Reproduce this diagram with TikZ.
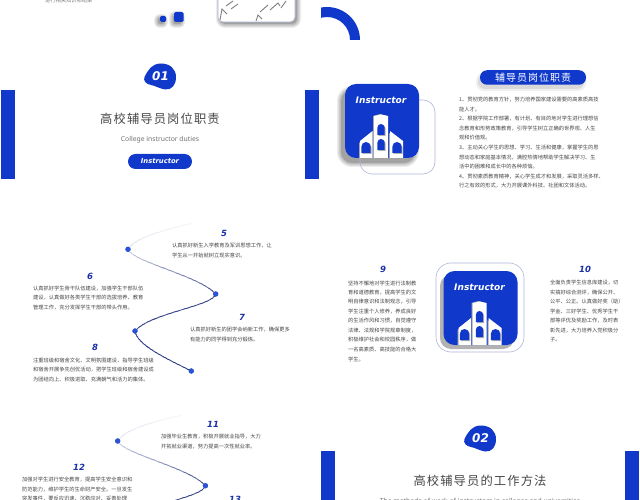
\documentclass[tikz,border=0pt]{standalone}
\usepackage{fontspec}
\setmainfont{Noto Sans CJK SC}
\newfontfamily\latinf{Noto Sans}
\newfontfamily\techf{DejaVu Sans}
\newcommand{\dou}{\char"FF0C\relax}
\definecolor{brandblue}{HTML}{1039CB}
\definecolor{navyline}{HTML}{2A3A84}
\definecolor{numblue}{HTML}{1A2FA8}
\definecolor{outlineblue}{HTML}{AEB7DA}
\definecolor{dotblue}{HTML}{2C52D6}
\tikzset{
 tx/.style={anchor=west,inner sep=0pt,text=black!72,font=\fontsize{5.25}{6}\selectfont},
 num/.style={inner sep=0pt,text=numblue,font=\techf\bfseries\itshape\fontsize{8.5}{9}\selectfont},
 bar/.style={fill=brandblue,draw=none},
 titletx/.style={inner sep=0pt,text=black!72,font=\fontsize{12.3}{14}\selectfont},
 dotn/.style={circle,fill=dotblue,draw=none,minimum size=5.2pt,inner sep=0pt},
 pilltx/.style={inner sep=0pt,text=white,font=\techf\bfseries\itshape\fontsize{6.8}{7}\selectfont},
 sublatin/.style={inner sep=0pt,text=black!55,font=\latinf\fontsize{6.8}{9}\selectfont},
 icontx/.style={inner sep=0pt,text=white,font=\techf\bfseries\itshape\fontsize{9}{10}\selectfont},
}
\newcommand{\softshadow}[5]{%
 \foreach \d in {0,1,2,3,4}{%
  \fill[black,opacity=.07,rounded corners=#5+\d*1pt] (#1-\d,#2-\d) rectangle (#3+\d,#4+\d);}%
 \fill[black!45,opacity=.35,rounded corners=#5] (#1,#2) rectangle (#3,#4);}
\newcommand{\blob}[4]{%
 \begin{scope}[shift={(#2,#3)}]
 \fill[brandblue] (-15.5,1) .. controls (-12,-6) and (-8,-12.5) .. (1,-12.5)
   .. controls (10,-12.5) and (16,-7) .. (16,1)
   .. controls (16,9) and (12,14) .. (5,13.5)
   .. controls (-1,12.5) and (-5,9.5) .. (-9,9)
   .. controls (-14,8) and (-17,5) .. cycle;
 \node[inner sep=0pt,text=white,font=\techf\bfseries\itshape\fontsize{12}{13}\selectfont] (#1) at (0.5,0) {#4};
 \end{scope}}
\newcommand{\iconart}[3]{%
 \begin{scope}[shift={(#2,#3)}]
 \fill[brandblue,rounded corners=11pt] (345,84) rectangle (419,158);
 \begin{scope}
 \clip (345,84) rectangle (419,158);
 \fill[black!35] (359,143) -- (371,133) -- (371,158) -- (359,158) -- cycle;
 \fill[black!35] (373,116) -- (380,114) -- (387,116) -- (387,158) -- (373,158) -- cycle;
 \fill[black!35] (389,133) -- (402,143) -- (402,158) -- (389,158) -- cycle;
 \fill[white] (360,141) -- (372.5,131) -- (372.5,158) -- (360,158) -- cycle;
 \fill[white] (374,116) -- (381,114.5) -- (388,116) -- (388,158) -- (374,158) -- cycle;
 \fill[white] (390,131) -- (403,141) -- (403,158) -- (390,158) -- cycle;
 \foreach \wx/\wy/\ww/\wh in {381/124/3.6/11,381/139/3.6/11,366/142/4.6/11,397/142/4.6/11}{
  \fill[black!30] (\wx+1-\ww,\wy+\wh+1) -- (\wx+1-\ww,\wy+\ww+1) arc[start angle=180,end angle=360,radius=\ww] -- (\wx+1+\ww,\wy+\wh+1) -- cycle;
  \fill[brandblue] (\wx-\ww,\wy+\wh) -- (\wx-\ww,\wy+\ww) arc[start angle=180,end angle=360,radius=\ww] -- (\wx+\ww,\wy+\wh) -- cycle;
 }
 \end{scope}
 \node[icontx] (#1) at (381,100) {Instructor};
 \end{scope}}
\newcommand{\swirl}[3]{%
 \begin{scope}[shift={(#2,#3)}]
 \coordinate (#1s) at (193,223);
 \node[dotn] (#1a) at (128,249.3) {};
 \node[dotn] (#1b) at (215.7,294) {};
 \node[dotn] (#1c) at (135,331) {};
 \node[dotn] (#1d) at (191.3,371) {};
 \foreach \i in {0,...,59}{%
  \pgfmathsetmacro\ya{222+\i*2.55}
  \pgfmathsetmacro\mx{\ya<249?(4+(\ya-222)*.45):(\ya<294?(20+(\ya-249)*1.6):(92+(\ya-294)*.1))}
  \colorlet{bandc}{navyline!\mx!white}
  \begin{scope}
   \clip (90,\ya) rectangle (250,\ya+2.65);
   \draw[bandc,line width=.8pt] (#1s) .. controls +(-33,8) and +(7,-11.3) .. (#1a.center)
     .. controls +(5,12.7) and +(-15.7,-18) .. (#1b.center)
     .. controls +(-2,12) and +(15,-18) .. (#1c.center)
     .. controls +(2,14) and +(-26,-13) .. (#1d.center);
  \end{scope}}
 \foreach \n in {a,b,c,d}{\node[dotn] at (#1\n) {};}
 \end{scope}}
\begin{document}
\begin{tikzpicture}[x=1pt,y=-1pt]
\useasboundingbox (0,0) rectangle (640,500);
\fill[white] (0,0) rectangle (640,500);
\clip (0,0) rectangle (640,500);
% top slide remnants
\node[tx,text=black!50] (toptext) at (45,1) {进行相关知识和结果};
\softshadow{158}{18}{164}{24}{1.5pt}
\fill[brandblue,rounded corners=1.5pt] (160,16) rectangle (166,22);
\softshadow{173}{15}{181}{24}{1.5pt}
\fill[brandblue,rounded corners=1.5pt] (174,12) rectangle (183.5,22);
\softshadow{220}{-10}{297}{24}{5pt}
\fill[white,draw=outlineblue,line width=.6pt,rounded corners=5pt] (218,-10) rectangle (295,22);
\draw[black!50,line width=.9pt] (220,20) -- (222,9) -- (227,14) (226,6) -- (233,1) (231,9) -- (238,4) (256,21) -- (258,15) -- (262,19) (260,12) -- (268,5) (270,10) -- (278,3) -- (280,6) (281,8) -- (286,1);
% arc
\begin{scope}
 \clip (321,0) rectangle (370,45);
 \fill[brandblue] (360,40) arc[start angle=360,end angle=180,radius=33] -- (304,40) arc[start angle=180,end angle=360,radius=23] -- cycle;
\end{scope}
% slide 01
\blob{n01}{160}{76}{01}
\fill[bar] (1,90) rectangle (15,179);
\fill[bar] (305,90) rectangle (319,179);
\node[titletx] (t1) at (160,119) {\addfontfeature{LetterSpace=9}高校辅导员岗位职责};
\node[sublatin] (t1s) at (160,140) {College instructor duties};
\node[fill=brandblue,rounded corners=7.5pt,minimum width=64pt,minimum height=15pt,inner sep=0pt] (p1) at (160,161.5) {};
\node[pilltx] at (p1) {Instructor};
% slide duties
\fill[black!30,opacity=.4,rounded corners=7pt] (478,74) rectangle (584,89);
\fill[black!20,opacity=.3,rounded corners=8pt] (476,73) rectangle (586,91);
\node[fill=brandblue,rounded corners=7pt,minimum width=106pt,minimum height=14.5pt,inner sep=0pt] (p2) at (533,77.5) {};
\node[inner sep=0pt,text=white,font=\fontsize{10}{11}\selectfont] at (p2) {\addfontfeature{LetterSpace=10}辅导员岗位职责};
\softshadow{341}{90}{415}{163}{11pt}
\draw[outlineblue,line width=.6pt,rounded corners=12pt] (360,100) rectangle (435,174);
\iconart{ic1}{0}{0}
\foreach \ty/\tt in {
 100/{1、贯彻党的教育方针\dou 努力培养国家建设需要的高素质高技},
 109.5/{能人才。},
 119/{2、根据学院工作部署\dou 有计划、有目的地对学生进行理想信},
 128.5/{念教育和形势政策教育\dou 引导学生树立正确的世界观、人生},
 138/{观和价值观。},
 148/{3、主动关心学生的思想、学习、生活和健康\dou 掌握学生的思},
 157.5/{想动态和家庭基本情况\dou 满腔热情地帮助学生解决学习、生},
 167/{活中的困难和成长中的各种烦恼。},
 176.5/{4、贯彻素质教育精神\dou 关心学生成才和发展\dou 采取灵活多样、},
 186/{行之有效的形式\dou 大力开展课外科技、社团和文体活动。}}{
 \node[tx] at (459,\ty) {\tt};}
% swirl 1
\swirl{sa}{0}{0}
\node[num] (n5) at (224,233) {5};
\node[tx] at (172,246) {认真抓好新生入学教育及军训思想工作\dou 让};
\node[tx] at (172,255.5) {学生从一开始就树立现实意识。};
\node[num] (n6) at (90,276) {6};
\node[tx] at (33,288.5) {认真抓好学生骨干队伍建设\dou 加强学生干部队伍};
\node[tx] at (33,298) {建设\dou 认真做好各类学生干部的选拔培养、教育};
\node[tx] at (33,307.5) {管理工作\dou 充分发挥学生干部的带头作用。};
\node[num] (n7) at (242,317) {7};
\node[tx] at (190,330) {认真抓好新生的团学会纳新工作\dou 确保更多};
\node[tx] at (190,339.5) {有能力的同学得到充分锻炼。};
\node[num] (n8) at (95,347) {8};
\node[tx] at (33,360.5) {注重班级和宿舍文化、文明氛围建设\dou 指导学生班级};
\node[tx] at (33,370) {和宿舍开展争先创优活动\dou 把学生班级和宿舍建设成};
\node[tx] at (33,379.5) {为团结向上、积极进取、充满朝气和活力的集体。};
% icon slide
\fill[white,draw=outlineblue,line width=.6pt,rounded corners=15pt] (436,263) rectangle (524,352);
\fill[black!30,rounded corners=11pt] (440,275) rectangle (514,349);
\iconart{ic2}{98.5}{187}
\node[num] (n9) at (383,269) {9};
\node[num] (n10) at (585,269.5) {10};
\foreach \ty/\tt in {
 283/{坚持不懈地对学生进行法制教},
 292.5/{育和道德教育\dou 提高学生的文},
 302/{明自律意识和法制观念\dou 引导},
 311.5/{学生注重个人修养\dou 养成良好},
 321/{的生活作风和习惯\dou 自觉遵守},
 330.5/{法律、法规和学院规章制度\dou},
 340/{积极维护社会和校园秩序\dou 做},
 349.5/{一名高素质、高技能的合格大},
 359/{学生。}}{
 \node[tx] at (348,\ty) {\tt};}
\foreach \ty/\tt in {
 283/{全面负责学生信息库建设\dou 切},
 292.5/{实搞好综合测评\dou 确保公开、},
 302/{公平、公正。认真做好奖\char"FF08 助\char"FF09},
 311.5/{学金、三好学生、优秀学生干},
 321/{部等评优及奖励工作\dou 及时表},
 330.5/{彰先进\dou 大力培养入党积极分},
 340/{子。}}{
 \node[tx] at (550,\ty) {\tt};}
% swirl 2
\swirl{sb}{-10.3}{191.7}
\node[num] (n11) at (213,424.5) {11};
\node[tx] at (161,437) {加强毕业生教育\dou 积极开展就业指导\dou 大力};
\node[tx] at (161,446.5) {开拓就业渠道\dou 努力提高一次性就业率。};
\node[num] (n12) at (79,467) {12};
\node[tx] at (22,480) {加强对学生进行安全教育\dou 提高学生安全意识和};
\node[tx] at (22,489.5) {防范能力\dou 维护学生的生命财产安全。一旦发生};
\node[tx] at (22,499) {突发事件\dou 要反应迅速、沉稳应对、妥善处理};
\node[num] (n13) at (235,499.5) {13};
% slide 02
\blob{n02}{480}{438}{02}
\fill[bar] (321,451) rectangle (335,500);
\fill[bar] (625,451) rectangle (639,500);
\node[titletx] (t2) at (480,480.5) {\addfontfeature{LetterSpace=9}高校辅导员的工作方法};
\node[sublatin] (t2s) at (480,502) {The methods of work of instructors in colleges and universities};
\end{tikzpicture}
\end{document}
